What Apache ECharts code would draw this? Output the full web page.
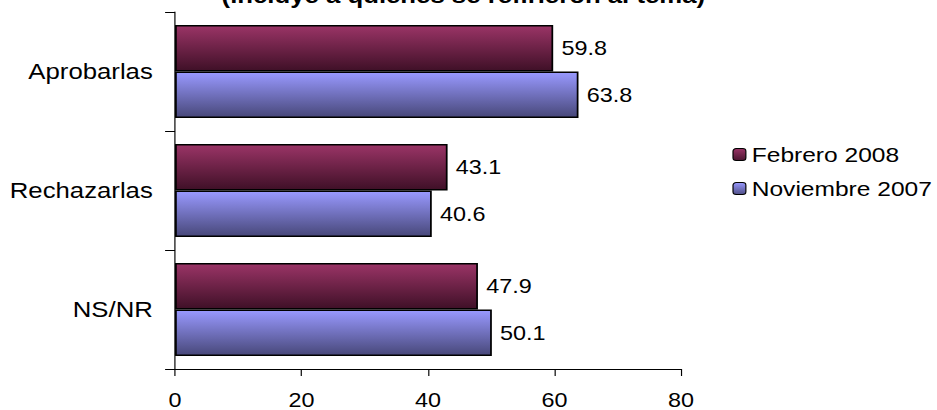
<!DOCTYPE html>
<html><head><meta charset="utf-8">
<script src="https://cdn.jsdelivr.net/npm/echarts@6/dist/echarts.min.js"></script>
<style>
html,body{margin:0;padding:0;background:#fff;overflow:hidden;width:937px;height:410px}
#c{width:801px;height:410px;transform:scaleX(1.17);transform-origin:0 0}
</style>
</head><body><div id="c"></div>
<script>
var categories = ['Aprobarlas', 'Rechazarlas', 'NS/NR'];
var febrero2008 = [59.8, 43.1, 47.9];
var noviembre2007 = [63.8, 40.6, 50.1];
var seriesNames = ['Febrero 2008', 'Noviembre 2007'];
var titleText = '(incluye a quienes se refirieron al tema)';

var FONT = '"Liberation Sans", Arial, sans-serif';
function grad(top, bottom) {
  return new echarts.graphic.LinearGradient(0, 0, 0, 1, [
    {offset: 0, color: top}, {offset: 1, color: bottom}]);
}
var chart = echarts.init(document.getElementById('c'), null, {renderer: 'svg'});
var labelCfg = {show: true, position: 'right', distance: 7, color: '#000', fontSize: 20, fontFamily: FONT,
  formatter: function (p) { return p.value.toFixed(1); }};
chart.setOption({
  animation: false,
  title: {text: titleText, left: 396, textAlign: 'center', top: -16, padding: 0,
    textStyle: {fontSize: 22, fontWeight: 'bold', fontFamily: FONT, color: '#000'}},
  legend: {
    orient: 'vertical', left: 626, top: 144, itemWidth: 11, itemHeight: 12, itemGap: 13, padding: 0,
    textStyle: {fontSize: 21, fontFamily: FONT, color: '#000'},
    data: [
      {name: seriesNames[0], itemStyle: {color: grad('#9a3466', '#4a1530'), borderColor: '#000', borderWidth: 1}},
      {name: seriesNames[1], itemStyle: {color: grad('#9999ff', '#4f4f85'), borderColor: '#000', borderWidth: 1}}
    ]
  },
  grid: {left: 149.6, right: 219, top: 12, bottom: 41},
  xAxis: {
    type: 'value', min: 0, max: 80, interval: 20,
    axisLine: {show: true, lineStyle: {color: '#000', width: 1}},
    axisTick: {show: true, length: 7, lineStyle: {color: '#000'}},
    splitLine: {show: false},
    axisLabel: {color: '#000', fontSize: 20, fontFamily: FONT, margin: 21}
  },
  yAxis: {
    type: 'category', data: categories, inverse: true,
    axisLine: {show: true, lineStyle: {color: '#000', width: 1}},
    axisTick: {show: true, inside: false, length: 8.5, lineStyle: {color: '#000'}},
    axisLabel: {color: '#000', fontSize: 22, fontFamily: FONT, margin: 19}
  },
  series: [
    {name: seriesNames[0], type: 'bar', data: febrero2008, barGap: '0%', barCategoryGap: '22%',
      itemStyle: {color: grad('#9a3466', '#3f1027'), borderColor: '#000', borderWidth: 1.5},
      label: labelCfg},
    {name: seriesNames[1], type: 'bar', data: noviembre2007, barGap: '0%', barCategoryGap: '22%',
      itemStyle: {color: grad('#9999ff', '#48487a'), borderColor: '#000', borderWidth: 1.5},
      label: labelCfg}
  ]
});
</script></body></html>
